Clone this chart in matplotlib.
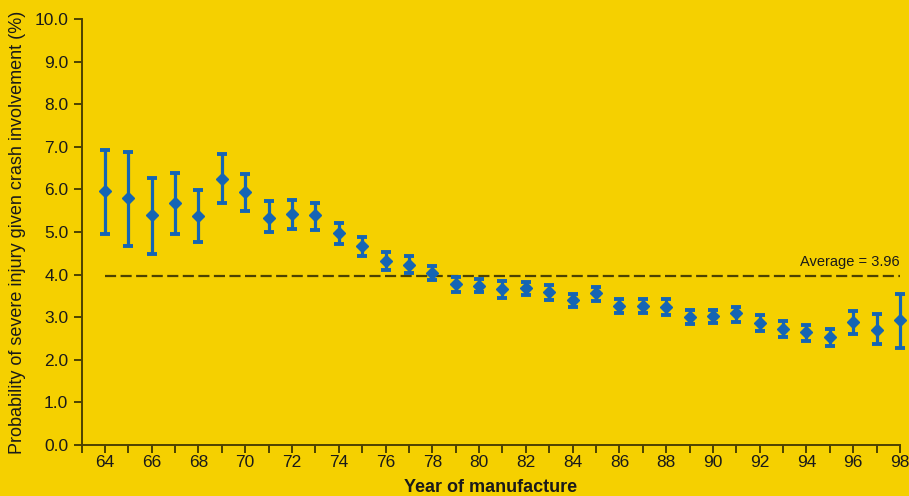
import matplotlib.pyplot as plt
from matplotlib import font_manager as fm
from matplotlib.ticker import MultipleLocator
import numpy as np

# Data
years = list(range(64, 99))
prob = [5.96, 5.79, 5.40, 5.67, 5.38, 6.25, 5.93, 5.34, 5.42, 5.40,
        4.97, 4.67, 4.32, 4.23, 4.03, 3.77, 3.73, 3.66, 3.68, 3.58,
        3.40, 3.56, 3.27, 3.27, 3.23, 3.01, 3.03, 3.09, 2.87, 2.72,
        2.65, 2.54, 2.89, 2.70, 2.93]
upper = [6.92, 6.88, 6.27, 6.38, 5.99, 6.83, 6.35, 5.73, 5.75, 5.69,
         5.20, 4.89, 4.54, 4.44, 4.21, 3.94, 3.90, 3.85, 3.83, 3.76,
         3.55, 3.72, 3.43, 3.43, 3.43, 3.17, 3.18, 3.25, 3.05, 2.91,
         2.82, 2.73, 3.15, 3.07, 3.54]
lower = [4.96, 4.68, 4.49, 4.96, 4.77, 5.69, 5.50, 5.01, 5.07, 5.05,
         4.72, 4.44, 4.11, 4.03, 3.87, 3.58, 3.58, 3.46, 3.52, 3.40,
         3.25, 3.38, 3.10, 3.10, 3.05, 2.84, 2.86, 2.89, 2.67, 2.54,
         2.45, 2.33, 2.61, 2.37, 2.28]
average = 3.96

BG = '#f5d000'
BLUE = '#1565b4'
AXIS = '#4d4200'
TEXT = '#1a1a1a'

# condensed face for the x axis if it is there
try:
    fm.findfont(fm.FontProperties(family='Liberation Sans Narrow'), fallback_to_default=False)
    NARROW = True
except ValueError:
    NARROW = False
COND = ['Liberation Sans Narrow', 'Liberation Sans', 'DejaVu Sans']
REG = ['Liberation Sans', 'DejaVu Sans']
plt.rcParams['font.family'] = REG

fig = plt.figure(figsize=(9.09, 4.96), dpi=100, facecolor=BG)
ax = fig.add_axes([0.0897, 0.1028, 0.9004, 0.8589], facecolor=BG)

yerr = [np.array(prob) - np.array(lower), np.array(upper) - np.array(prob)]
eb = ax.errorbar(years, prob, yerr=yerr, fmt='D', color=BLUE, ecolor=BLUE,
                 markersize=6.5, elinewidth=2.3, capsize=3.8, capthick=2.8, zorder=3)
for art in eb.get_children():
    art.set_clip_on(False)

# average line
ax.plot([years[0], years[-1]], [average, average], color=AXIS, lw=1.6,
        dashes=(5, 2), zorder=2)
ax.text(years[-1], average + 0.18, f'Average = {average:.2f}', ha='right',
        va='bottom', fontsize=11 if NARROW else 10.5, color=TEXT, family=COND)

ax.set_xlim(63, 98)
ax.set_ylim(0, 10)
ax.xaxis.set_major_locator(MultipleLocator(2))
ax.xaxis.set_minor_locator(MultipleLocator(1))
ax.yaxis.set_major_locator(MultipleLocator(1))
ax.yaxis.set_major_formatter(plt.FuncFormatter(lambda v, p: f'{v:.1f}'))

for s in ['top', 'right']:
    ax.spines[s].set_visible(False)
for s in ['left', 'bottom']:
    ax.spines[s].set_color(AXIS)
    ax.spines[s].set_linewidth(1.4)

ax.tick_params(axis='both', which='both', direction='out', length=5.5,
               width=1.4, color=AXIS, labelcolor=TEXT)
ax.tick_params(axis='x', labelsize=14 if NARROW else 12.5, pad=2)
ax.tick_params(axis='y', labelsize=12.5, pad=4)
for lab in ax.get_xticklabels():
    lab.set_family(COND)

ax.set_xlabel('Year of manufacture', fontsize=14.5 if NARROW else 13, fontweight='bold',
              color=TEXT, family=COND, labelpad=6)
ax.set_ylabel('Probability of severe injury given crash involvement (%)',
              fontsize=13, color=TEXT, labelpad=6)

fig.savefig('out.png', dpi=100, facecolor=BG)
